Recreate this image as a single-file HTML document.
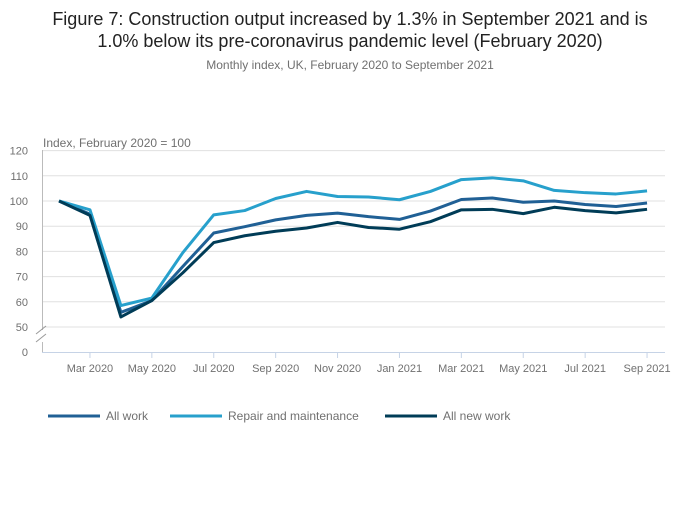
<!DOCTYPE html>
<html><head><meta charset="utf-8"><style>
body{margin:0;background:#fff;font-family:"Liberation Sans",sans-serif}
#w{position:relative;width:700px;height:502px}
</style></head><body>
<div id="w">
<svg id="s" width="700" height="502" xmlns="http://www.w3.org/2000/svg" font-family="Liberation Sans, sans-serif">
<text x="350" y="25" text-anchor="middle" font-size="18" fill="#222">Figure 7: Construction output increased by 1.3% in September 2021 and is</text>
<text x="350" y="47" text-anchor="middle" font-size="18" fill="#222">1.0% below its pre-coronavirus pandemic level (February 2020)</text>
<text x="350" y="69" text-anchor="middle" font-size="12" fill="#707070">Monthly index, UK, February 2020 to September 2021</text>
<text x="43" y="147" font-size="12" fill="#707070">Index, February 2020 = 100</text>
<g id="grid"></g><g id="axes"></g><g id="lines"></g><g id="legend"></g>
</svg></div>
<script>
const months=["Feb 2020","Mar 2020","Apr 2020","May 2020","Jun 2020","Jul 2020","Aug 2020","Sep 2020","Oct 2020","Nov 2020","Dec 2020","Jan 2021","Feb 2021","Mar 2021","Apr 2021","May 2021","Jun 2021","Jul 2021","Aug 2021","Sep 2021"];
const allWork=[100,94.8,55.8,60.5,74,87.3,89.8,92.5,94.3,95.2,93.8,92.7,96,100.6,101.2,99.5,100,98.6,97.8,99.2];
const repair=[100,96.5,58.5,61.5,79.5,94.5,96.2,101,103.8,101.8,101.6,100.5,103.8,108.5,109.2,108,104.2,103.3,102.8,104];
const newWork=[100,94.3,54,60.5,71.5,83.5,86.2,88,89.3,91.5,89.5,88.8,91.8,96.5,96.7,95,97.5,96.2,95.3,96.7];
const yTicks=[50,60,70,80,90,100,110,120];
const xTickLabels=["Mar 2020","May 2020","Jul 2020","Sep 2020","Nov 2020","Jan 2021","Mar 2021","May 2021","Jul 2021","Sep 2021"];
const NS="http://www.w3.org/2000/svg";
const x=i=>59+i*30.95;
const y=v=>327-(v-50)*2.52;
function mk(t,a,p){const e=document.createElementNS(NS,t);for(const k in a)e.setAttribute(k,a[k]);document.getElementById(p).appendChild(e);return e;}
yTicks.forEach(v=>{
 const l=mk('line',{x1:42,x2:665,y1:y(v),y2:y(v),stroke:'#e0e0e0','stroke-width':1},'grid');
 
 
 const t=mk('text',{x:28,y:y(v)+4,'text-anchor':'end','font-size':11,fill:'#707070'},'axes');t.textContent=v;
 
 
});
let t0=mk('text',{x:28,y:356,'text-anchor':'end','font-size':11,fill:'#707070'},'axes');t0.textContent='0';


let ya=mk('path',{d:'M42.5 150 V330 M42.5 342 V352',stroke:'#bbb',fill:'none'},'axes');


let br=mk('path',{d:'M36 334 L46 326 M36 342 L46 334',stroke:'#999',fill:'none'},'axes');


let xa=mk('line',{x1:42,x2:665,y1:352.5,y2:352.5,stroke:'#c6d3e6'},'axes');


xTickLabels.forEach((lab,k)=>{
 const i=months.indexOf(lab);
 const tk=mk('line',{x1:x(i),x2:x(i),y1:352,y2:358,stroke:'#c6d3e6'},'axes');
 
 
 const t=mk('text',{x:x(i),y:372,'text-anchor':'middle','font-size':11,fill:'#707070'},'axes');t.textContent=lab;
 
 
});
const series=[["all-work",allWork,"#206095"],["repair-and-maintenance",repair,"#27a0cc"],["all-new-work",newWork,"#003c57"]];
series.forEach(([n,d,c])=>{
 const p=mk('polyline',{points:d.map((v,i)=>x(i)+','+y(v)).join(' '),fill:'none',stroke:c,'stroke-width':3,'stroke-linejoin':'round'},'lines');
 
 
});
const leg=[["All work","#206095",48],["Repair and maintenance","#27a0cc",170],["All new work","#003c57",385]];
leg.forEach(([lab,c,lx])=>{
 const l=mk('line',{x1:lx,x2:lx+52,y1:416,y2:416,stroke:c,'stroke-width':3},'legend');
 
 
 const t=mk('text',{x:lx+58,y:420,'font-size':12,fill:'#707070'},'legend');t.textContent=lab;
 
 
});
</script>
</body></html>
